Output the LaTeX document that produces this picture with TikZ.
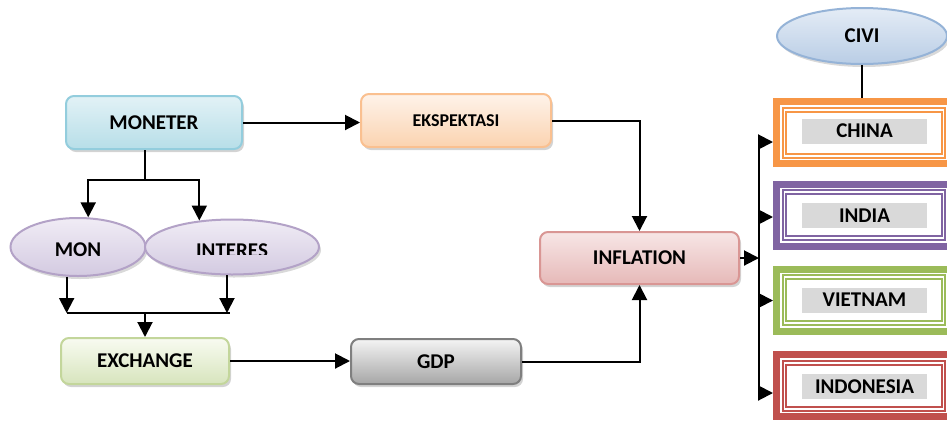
\documentclass[tikz,border=0pt]{standalone}
\usepackage{fontspec}
\setmainfont{Carlito}
\usetikzlibrary{shapes.geometric,shadows,arrows.meta}
\definecolor{monTop}{HTML}{E2F2F6}
\definecolor{monBot}{HTML}{B7DEE8}
\definecolor{monLine}{HTML}{93CDDD}
\definecolor{ekTop}{HTML}{FEF3EA}
\definecolor{ekBot}{HTML}{FBD3B0}
\definecolor{ekLine}{HTML}{FAC090}
\definecolor{inTop}{HTML}{F7E6E6}
\definecolor{inBot}{HTML}{E6B9B8}
\definecolor{inLine}{HTML}{D99694}
\definecolor{gdTop}{HTML}{F4F4F4}
\definecolor{gdBot}{HTML}{A6A6A6}
\definecolor{gdLine}{HTML}{7F7F7F}
\definecolor{exTop}{HTML}{F8FBF1}
\definecolor{exBot}{HTML}{D7E4BD}
\definecolor{exLine}{HTML}{C3D69B}
\definecolor{elTop}{HTML}{F0ECF5}
\definecolor{elBot}{HTML}{D3CAE1}
\definecolor{elLine}{HTML}{B3A2C7}
\definecolor{cvTop}{HTML}{E4ECF6}
\definecolor{cvBot}{HTML}{B9CDE5}
\definecolor{cvLine}{HTML}{95B3D7}
\definecolor{cOrange}{HTML}{F79646}
\definecolor{cPurple}{HTML}{8064A2}
\definecolor{cGreen}{HTML}{9BBB59}
\definecolor{cRed}{HTML}{C0504D}
\definecolor{lblGray}{HTML}{D9D9D9}
\tikzset{
  fbox/.style={rectangle, rounded corners=8pt, line width=2pt, inner sep=0pt,
    drop shadow={shadow xshift=2pt, shadow yshift=-3pt, opacity=0.35}},
  fell/.style={ellipse, line width=2pt, inner sep=0pt,
    drop shadow={shadow xshift=2pt, shadow yshift=-3pt, opacity=0.3}},
  con/.style={line width=2pt},
  arr/.style={con, -{Triangle[length=15pt,width=15pt]}},
  outerframe/.style={rectangle, line width=7pt, inner sep=0pt, minimum width=190, minimum height=62},
  innerframe/.style={rectangle, line width=1.8pt, double=white, double distance=1.6pt, inner sep=0pt, minimum width=159, minimum height=46},
  lbl/.style={rectangle, fill=lblGray, inner sep=0pt, minimum width=125, minimum height=25},
  txt/.style={font=\bfseries\fontsize{21}{25}\selectfont}
}
\begin{document}
\begin{tikzpicture}[x=1pt,y=-1pt, txt]
\path[use as bounding box] (0,0) rectangle (947,421);
\clip (0,0) rectangle (947,421);

% main boxes
\node[fbox, draw=monLine, top color=monTop, bottom color=monBot, minimum width=176, minimum height=53] (moneter) at (154,122.5) {MONETER};
\node[fbox, draw=ekLine, top color=ekTop, bottom color=ekBot, minimum width=190, minimum height=53, font=\bfseries\fontsize{18}{22}\selectfont] (ekspek) at (456,120.5) {EKSPEKTASI};
\node[fbox, draw=inLine, top color=inTop, bottom color=inBot, minimum width=199, minimum height=52] (inflation) at (639.5,258) {INFLATION};
\node[fbox, draw=gdLine, top color=gdTop, bottom color=gdBot, minimum width=170, minimum height=45] (gdp) at (436,361.5) {GDP};
\node[fbox, draw=exLine, top color=exTop, bottom color=exBot, minimum width=168, minimum height=46] (exchange) at (145,361) {EXCHANGE};

% ellipses
\node[fell, draw=elLine, top color=elTop, bottom color=elBot, minimum width=135, minimum height=58] (mon) at (78,247) {};
\node (monT) at (78,250) {MON};
\node[fell, draw=elLine, top color=elTop, bottom color=elBot, minimum width=174, minimum height=55] (interes) at (232,247) {};
\begin{scope}
  \clip (150,225) rectangle (320,254.5);
  \node (interesT) at (232,251) {INTERES};
\end{scope}
\node[fell, draw=cvLine, top color=cvTop, bottom color=cvBot, minimum width=170, minimum height=56] (civi) at (862,36) {CIVI};

% country frames
\node[outerframe, draw=cOrange] (chinaF) at (871.5,132.5) {};
\node[outerframe, draw=cPurple] (indiaF) at (871.5,215.5) {};
\node[outerframe, draw=cGreen] (vietnamF) at (871.5,300.5) {};
\node[outerframe, draw=cRed] (indonesiaF) at (871.5,385.5) {};
\node[innerframe, draw=cOrange] (chinaI) at (864,133) {};
\node[innerframe, draw=cPurple] (indiaI) at (864,215) {};
\node[innerframe, draw=cGreen] (vietnamI) at (864,300) {};
\node[innerframe, draw=cRed] (indonesiaI) at (864,386) {};
\node[lbl] (china) at (864.5,131) {CHINA};
\node[lbl] (india) at (864.5,215.5) {INDIA};
\node[lbl] (vietnam) at (864.5,300) {VIETNAM};
\node[lbl] (indonesia) at (864.5,386.5) {INDONESIA};

% connectors left part
\coordinate (split1) at (145,180);
\draw[con] (split1 |- moneter.south) -- (split1);
\draw[arr] (split1) -| (mon.71);
\draw[arr] (split1) -| (interes.141);
\coordinate (j1) at (67,313);
\coordinate (j2) at (230,313);
\coordinate (j3) at (145,313);
\draw[arr] (mon.249) -- (mon.249 |- j1);
\draw[arr] (interes.260) -- (interes.260 |- j1);
\draw[con] (j1) -- (j2);
\draw[arr] (j3) -- (j3 |- exchange.north);

\draw[arr] (moneter.east) -- (moneter.east -| ekspek.west);
\draw[arr] (exchange.east) -- (exchange.east -| gdp.west);
\draw[arr] (ekspek.east) -| (inflation.north);
\draw[arr] (gdp.east) -| (inflation.south);

% trunk
\coordinate (tTop) at (759,140);
\coordinate (tBot) at (759,397);
\draw[con] (tTop) -- (tBot);
\draw[arr] (inflation.east) -- (inflation.east -| tTop);
\coordinate (cA) at ([yshift=-9.5pt]chinaF.west);
\coordinate (cB) at ([yshift=-1.5pt]indiaF.west);
\coordinate (cC) at (vietnamF.west);
\coordinate (cD) at ([yshift=-7.5pt]indonesiaF.west);
\draw[arr] (tTop |- cA) -- (cA);
\draw[arr] (tTop |- cB) -- (cB);
\draw[arr] (tTop |- cC) -- (cC);
\draw[arr] (tTop |- cD) -- (cD);

\draw[con] (civi.south) -- (civi.south |- chinaF.north);
\end{tikzpicture}
\end{document}
